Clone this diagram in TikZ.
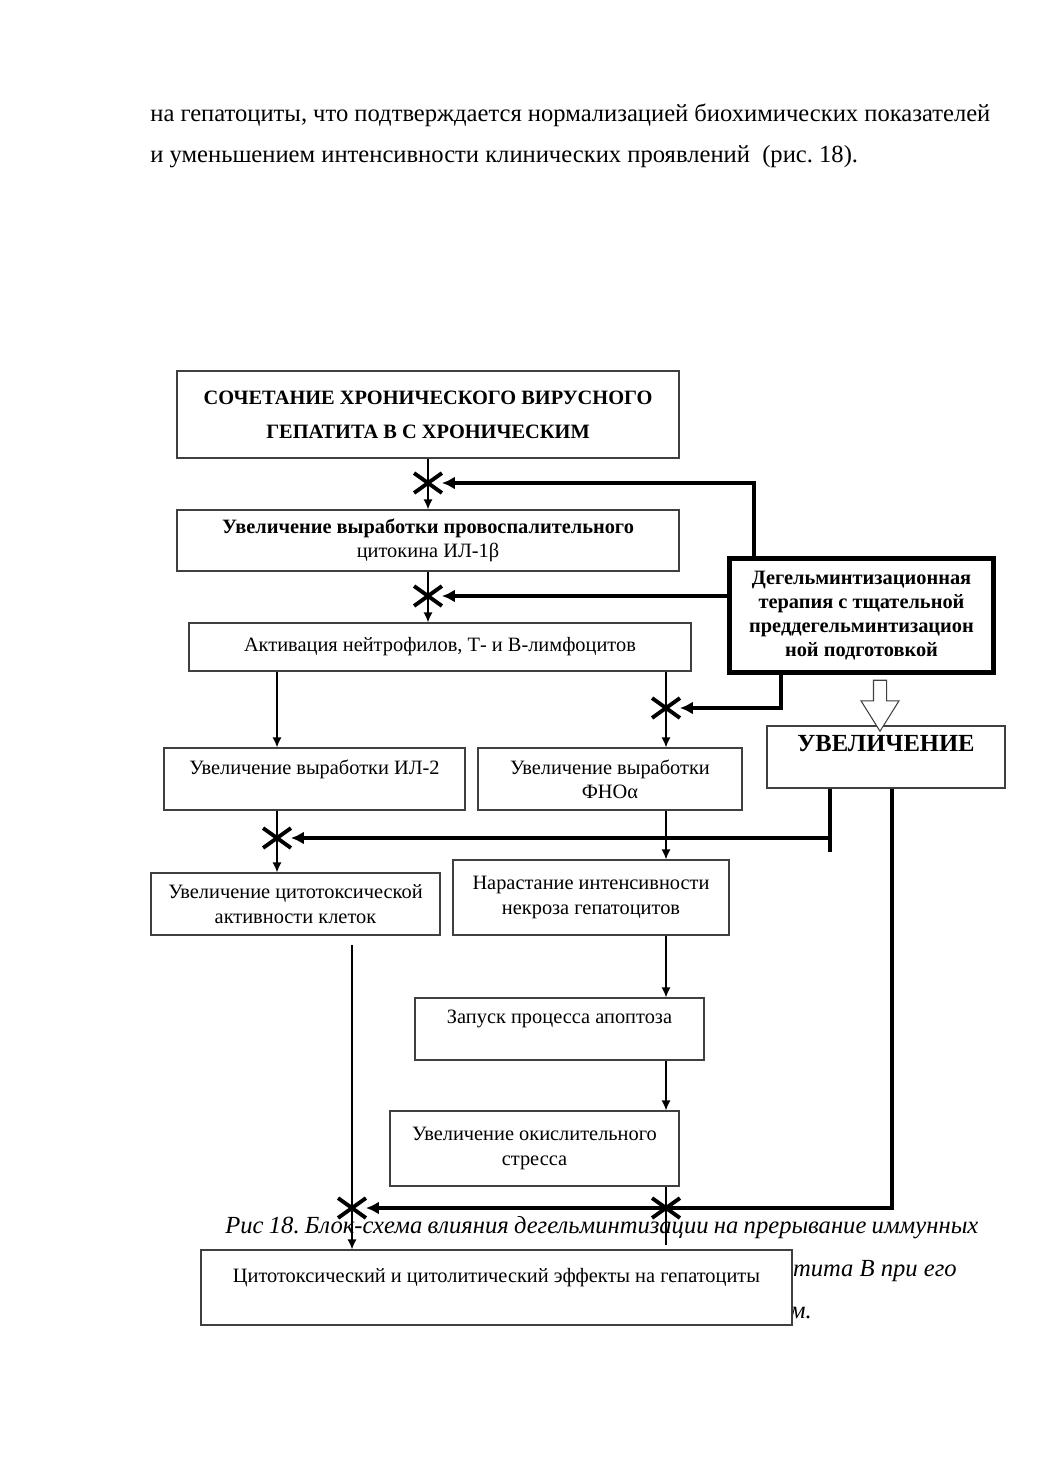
\documentclass[tikz,border=0pt]{standalone}
\usepackage{fontspec}
\setmainfont{Liberation Serif}
\frenchspacing
\usetikzlibrary{arrows.meta,shapes.misc,shapes.arrows}

\tikzset{
  caja/.style={draw=black!75, line width=0.6pt, align=center, inner sep=2pt, font=\fontsize{11.6}{13.8}\selectfont},
  cruz/.style={cross out, draw, line width=2.2pt, minimum width=4.8mm, minimum height=3.2mm, inner sep=0pt},
  flecha/.style={line width=0.9pt, -{Latex[length=2mm,width=1.8mm]}},
  gruesa/.style={line width=2.3pt},
  gruesaflecha/.style={gruesa, -{Latex[length=2.6mm,width=2.6mm]}},
  hueca/.style={single arrow, draw=black!75, fill=white, line width=0.6pt, rotate=-90, minimum height=10.2mm, minimum width=5mm, inner sep=1.2mm, single arrow tip angle=64},
  texto/.style={inner sep=0pt, font=\fontsize{14}{16}\selectfont},
}

\begin{document}
\begin{tikzpicture}[x=0.2mm, y=-0.2mm]
    \useasboundingbox (0,0) rectangle (1039,1471);
    % Texto de la página
    \node[texto, anchor=west] (parr1) at (150,115) {\makebox[168mm][s]{на гепатоциты, что подтверждается нормализацией биохимических показателей}};
    \node[texto, anchor=west] (parr2) at (150,157) {и уменьшением интенсивности клинических проявлений\ \ (рис. 18).};
    % Pie de figura (tapado en parte)
    \node[texto, anchor=west, font=\itshape\fontsize{14}{16}\selectfont] (pie1) at (225,1228) {\makebox[150.6mm][s]{Рис 18. Блок-схема влияния дегельминтизации на прерывание иммунных}};
    \node[texto, anchor=east, font=\itshape\fontsize{14}{16}\selectfont] (pie2) at (957,1271) {тита В при его};
    \node[texto, anchor=east, font=\itshape\fontsize{14}{16}\selectfont] (pie3) at (812,1313) {м.};

    % Cajas
    \node[caja, minimum width=100.4mm, minimum height=17.4mm] (titulo) at (428,414.5) {\bfseries СОЧЕТАНИЕ ХРОНИЧЕСКОГО ВИРУСНОГО\\[2mm]\bfseries ГЕПАТИТА В С ХРОНИЧЕСКИМ};
    \node[caja, minimum width=100.4mm, minimum height=12.2mm] (il1b) at (428,540.5) {\textbf{Увеличение выработки провоспалительного}\\цитокина ИЛ-1β};
    \node[caja, minimum width=100.4mm, minimum height=9.6mm] (activ) at (440,647) {Активация нейтрофилов, Т- и В-лимфоцитов};
    \node[caja, draw=black, line width=2.85pt, minimum width=52.8mm, minimum height=22.8mm] (terapia) at (861.5,615.5) {\bfseries Дегельминтизационная\\\bfseries терапия с тщательной\\\bfseries преддегельминтизацион\\\bfseries ной подготовкой};
    \node[caja, minimum width=47.6mm, minimum height=12.4mm, font=\bfseries\fontsize{14}{15}\selectfont] (aumento) at (886,757) {УВЕЛИЧЕНИЕ\\\mbox{}};
    \node[caja, minimum width=60.2mm, minimum height=12.4mm] (il2) at (314.5,779) {Увеличение выработки ИЛ-2\\\mbox{}};
    \node[caja, minimum width=52.8mm, minimum height=12.4mm] (fno) at (610,779) {Увеличение выработки\\ФНОα};
    \node[caja, minimum width=57.8mm, minimum height=12.4mm] (citotox) at (295.5,904) {Увеличение цитотоксической\\активности клеток};
    \node[caja, minimum width=55.2mm, minimum height=15mm] (necrosis) at (591,897.5) {Нарастание интенсивности\\некроза гепатоцитов};
    \node[caja, minimum width=57.8mm, minimum height=12.4mm] (apoptosis) at (559.5,1029) {Запуск процесса апоптоза\\\mbox{}};
    \node[caja, minimum width=57.8mm, minimum height=15mm] (estres) at (534.5,1148.5) {Увеличение окислительного\\стресса};
    \node[caja, fill=white, minimum width=118.2mm, minimum height=15mm] (efecto) at (496.5,1287.5) {Цитотоксический и цитолитический эффекты на гепатоциты\\\mbox{}};

    % Cruces
    \node[cruz] (c1) at (428,483) {};
    \node[cruz] (c2) at (428,596) {};
    \node[cruz] (c3) at (277,838) {};
    \node[cruz] (c4) at (666,708) {};
    \node[cruz] (c5) at (666,1208) {};
    \node[cruz] (c6) at (352,1208) {};
    \coordinate (r1) at (830,852);
    \coordinate (r2) at (892,788);
    \coordinate (ini) at (352,945);
    \coordinate (fin) at (666,1245);

    % Flechas finas
    \draw[flecha] (titulo.south) -- (il1b.north);
    \draw[flecha] (il1b.south) -- (il1b.south |- activ.north);
    \draw[flecha] (activ.south -| c3) -- (il2.north -| c3);
    \draw[flecha] (activ.south -| c4) -- (fno.north -| c4);
    \draw[flecha] (il2.south -| c3) -- (citotox.north -| c3);
    \draw[flecha] (fno.south -| c4) -- (necrosis.north -| c4);
    \draw[flecha] (necrosis.south -| c4) -- (apoptosis.north -| c4);
    \draw[flecha] (apoptosis.south -| c4) -- (estres.north -| c4);
    \draw[line width=0.9pt] (estres.south -| fin) -- (fin);
    \draw[flecha] (ini) -- (efecto.north -| ini);

    % Flechas gruesas desde la terapia
    \draw[gruesaflecha] ([xshift=5.4mm]terapia.north west) |- (c1.east);
    \draw[gruesaflecha] (terapia.west |- c2.east) -- (c2.east);
    \draw[gruesaflecha] ([xshift=10.8mm]terapia.south west) |- (c4.east);
    \node[hueca] (flechahueca) at (880,700.5) {};

    % Desde el aumento
    \draw[gruesa] (aumento.south -| r1) -- (r1);
    \draw[gruesaflecha] (r1 |- c3.east) -- (c3.east);
    \draw[gruesaflecha] (aumento.south -| r2) |- (c6.east);
\end{tikzpicture}
\end{document}
